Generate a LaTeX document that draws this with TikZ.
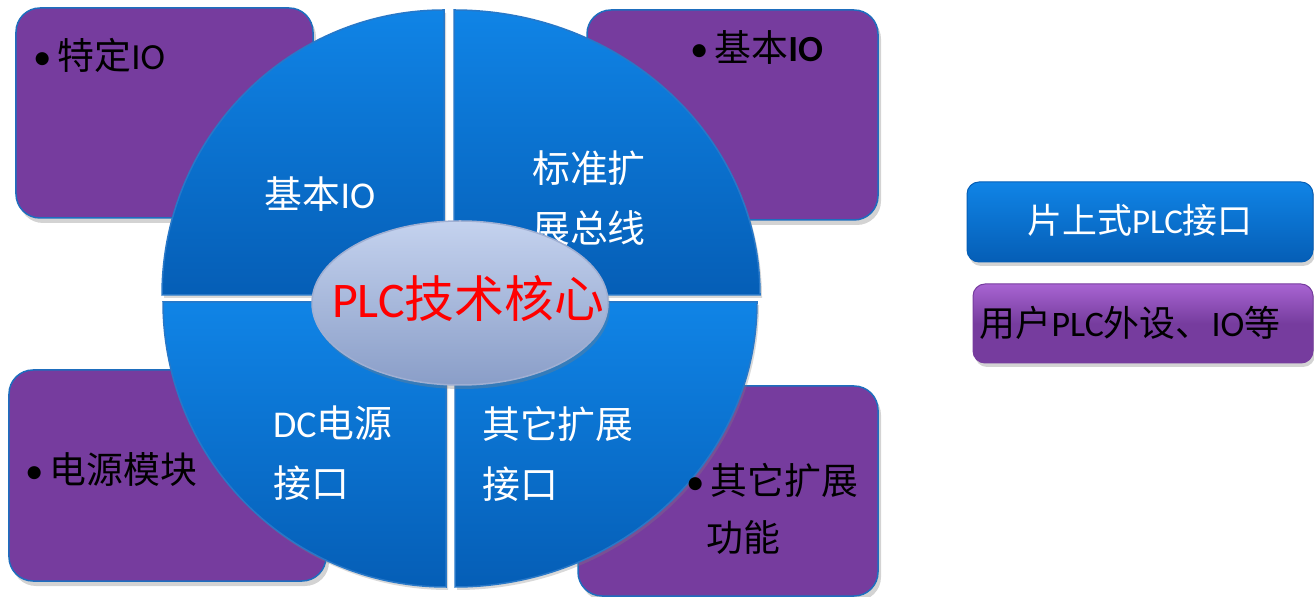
\documentclass[tikz,border=0pt]{standalone}
\usepackage{fontspec}
\setmainfont{Carlito}
\newfontfamily\cjk{Noto Sans CJK SC}
\newcommand\zh[1]{{\cjk #1}}
\usetikzlibrary{shadows,shapes.geometric}
\definecolor{purp}{RGB}{118,60,158}
\definecolor{purpedge}{RGB}{30,110,190}
\definecolor{qtop}{RGB}{16,132,230}
\definecolor{qbot}{RGB}{5,94,182}
\definecolor{qedge}{RGB}{40,120,200}
\definecolor{eltop}{RGB}{196,210,238}
\definecolor{elbot}{RGB}{138,158,200}
\definecolor{eledge}{RGB}{160,175,210}
\tikzset{
  purpbox/.style={rounded corners=24bp, fill=purp, draw=purpedge, line width=1.5bp,
    drop shadow={shadow xshift=3bp, shadow yshift=-5bp, opacity=0.35}},
  quad/.style={top color=qtop, bottom color=qbot, draw=qedge, line width=1.5bp,
    drop shadow={shadow xshift=2bp, shadow yshift=-3bp, opacity=0.3}},
  wtxt/.style={text=white, font=\fontsize{38}{60}\selectfont, align=left, inner sep=0pt},
  btxt/.style={text=black, font=\fontsize{37}{57}\selectfont, align=left, inner sep=0pt},
  legblue/.style={rounded corners=12bp, top color=qtop, bottom color=qbot, draw=qbot,
    line width=1bp, minimum width=346bp, minimum height=80bp,
    drop shadow={shadow xshift=2bp, shadow yshift=-4bp, opacity=0.35}},
  legpurp/.style={rounded corners=12bp, top color={rgb,255:red,168;green,100;blue,210}, bottom color=purp,
    middle color=purp, draw=purp, line width=1bp, minimum width=340bp, minimum height=79bp,
    drop shadow={shadow xshift=2bp, shadow yshift=-4bp, opacity=0.35}},
}
\begin{document}
\begin{tikzpicture}[x=1bp,y=1bp]
\useasboundingbox (0,0) rectangle (1314,597);
% purple boxes
\node[purpbox, minimum width=297bp, minimum height=210bp] (bTL) at (164.5,484) {};
\node[purpbox, minimum width=291bp, minimum height=210bp] (bTR) at (732.5,482) {};
\node[purpbox, minimum width=317bp, minimum height=211bp] (bBL) at (167.5,121.5) {};
\node[purpbox, minimum width=300bp, minimum height=210bp] (bBR) at (728,106) {};
% quadrants
\path[quad] (444,302) -- (162,302) arc[start angle=180, end angle=90, x radius=282, y radius=285] -- cycle;
\path[quad] (454,302) -- (454,587) arc[start angle=90, end angle=0, x radius=306, y radius=285] -- cycle;
\path[quad] (446,295) -- (446,10) arc[start angle=270, end angle=180, x radius=283, y radius=285] -- cycle;
\path[quad] (455,295) -- (757,295) arc[start angle=0, end angle=-90, x radius=302, y radius=285] -- cycle;
% quadrant texts
\node[wtxt, anchor=center] (q1) at (320,403) {\zh{基本}IO};
\node[wtxt, anchor=north west] (q2) at (532,446) {\zh{标准扩}\\\zh{展总线}};
\node[wtxt, anchor=north west] (q3) at (273,191) {DC\zh{电源}\\\zh{接口}};
\node[wtxt, anchor=north west] (q4) at (482,191) {\zh{其它扩展}\\\zh{接口}};
% core ellipse
\node[ellipse, minimum width=296bp, minimum height=164bp, inner sep=0pt,
  top color=eltop, bottom color=elbot, draw=eledge, line width=1.5bp,
  drop shadow={shadow xshift=2bp, shadow yshift=-4bp, opacity=0.35}] (core) at (460,294) {};
\node[inner sep=0pt, text=red, font=\fontsize{50}{54}\selectfont] (coretxt) at (468,298) {PLC\zh{技术核心}};
% purple box texts
\node[btxt, anchor=west] (t1) at (33,542) {•\hspace{6bp}\zh{特定}IO};
\node[btxt, anchor=west] (t2) at (690,549) {•\hspace{6bp}\zh{基本}\textbf{IO}};
\node[btxt, anchor=west] (t3) at (25,127) {•\hspace{6bp}\zh{电源模块}};
\node[btxt, anchor=north west] (t4) at (686,134) {•\hspace{6bp}\zh{其它扩展}\\\hspace{20bp}\zh{功能}};
% legend
\node[legblue] (lb) at (1140,375) {};
\node[wtxt, anchor=center, font=\fontsize{35}{40}\selectfont] (lbt) at (1140,377) {\zh{片上式}PLC\zh{接口}};
\node[legpurp] (lp) at (1143,273.5) {};
\node[btxt, anchor=center, font=\fontsize{36}{40}\selectfont] (lpt) at (1130,274) {\zh{用户}PLC\zh{外设、}IO\zh{等}};
\end{tikzpicture}
\end{document}
